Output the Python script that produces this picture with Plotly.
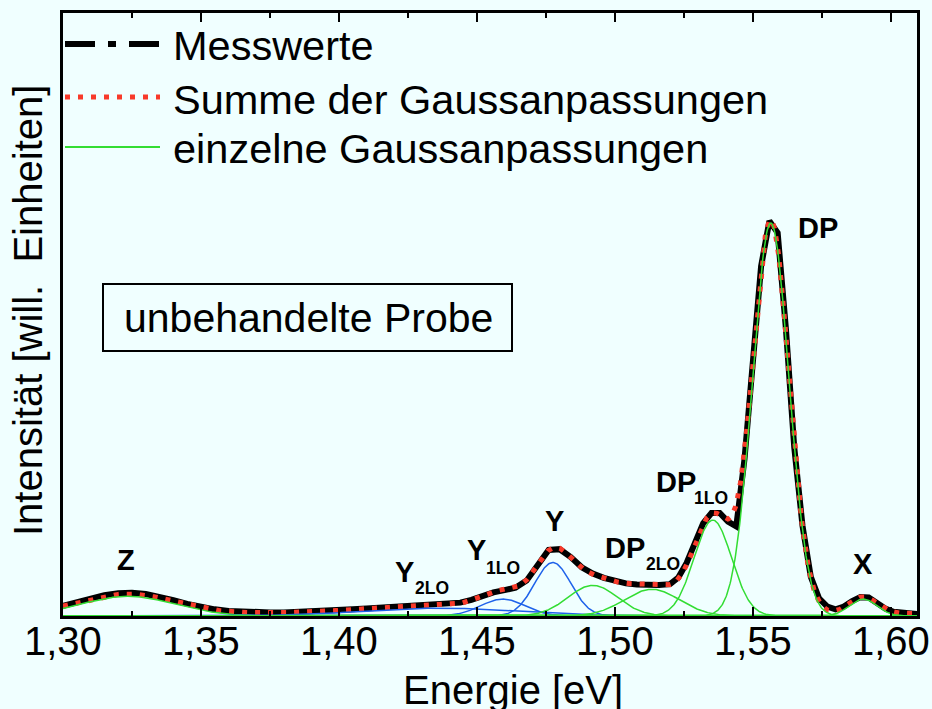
import numpy as np
import plotly.graph_objects as go

# Messwerte: Energie [eV] und Intensität [willk. Einheiten]
energie = [
    1.300, 1.305, 1.310, 1.315, 1.320, 1.325, 1.330, 1.335, 1.340, 1.345,
    1.350, 1.355, 1.360, 1.365, 1.370, 1.375, 1.380, 1.385, 1.390, 1.395,
    1.400, 1.405, 1.410, 1.415, 1.420, 1.425, 1.430, 1.435, 1.440,
    1.444, 1.448, 1.452, 1.456, 1.460, 1.464, 1.468, 1.472, 1.476, 1.480,
    1.484, 1.488, 1.492, 1.496, 1.500, 1.504, 1.508, 1.512, 1.516, 1.520,
    1.523, 1.526, 1.529, 1.532, 1.535, 1.538, 1.541, 1.544, 1.547, 1.550,
    1.553, 1.556, 1.559, 1.562, 1.565, 1.568, 1.571, 1.574, 1.577, 1.580,
    1.583, 1.586, 1.589, 1.592, 1.595, 1.598, 1.601, 1.604, 1.607, 1.610,
]
messwerte = [
    0.026, 0.035, 0.045, 0.053, 0.058, 0.059, 0.056, 0.049, 0.040, 0.031,
    0.023, 0.017, 0.013, 0.011, 0.010, 0.009, 0.009, 0.010, 0.011, 0.013,
    0.015, 0.017, 0.019, 0.021, 0.023, 0.025, 0.027, 0.028, 0.030,
    0.034, 0.041, 0.051, 0.060, 0.066, 0.072, 0.090, 0.132, 0.168, 0.170,
    0.150, 0.124, 0.108, 0.097, 0.089, 0.083, 0.080, 0.079, 0.079, 0.081,
    0.098, 0.135, 0.185, 0.236, 0.262, 0.262, 0.240, 0.228, 0.400, 0.650,
    0.890, 1.005, 0.975, 0.730, 0.430, 0.230, 0.100, 0.045, 0.024, 0.017,
    0.024, 0.038, 0.048, 0.047, 0.033, 0.019, 0.011, 0.008, 0.006, 0.005,
]

# Einzelne Gaußanpassungen: Zentrum [eV], Amplitude, Breite sigma [eV]
gauss_namen = ["Z", "Y2LO", "Y1LO", "Y", "Y*", "DP2LO", "DP1LO", "DP", "X"]
gauss_zentren = [1.3235, 1.437, 1.4594, 1.4775, 1.492, 1.5134, 1.5355, 1.5565, 1.590]
gauss_amplituden = [0.050, 0.020, 0.043, 0.136, 0.078, 0.068, 0.244, 1.000, 0.043]
gauss_breiten = [0.017, 0.028, 0.008, 0.0066, 0.009, 0.010, 0.0068, 0.0066, 0.005]
gauss_serie = ["DP", "Y", "Y", "Y", "DP", "DP", "DP", "DP", "DP"]
untergrund = 0.006

# Peak-Beschriftungen: Haupttext, Index
label_haupt = ["Z", "Y", "Y", "Y", "DP", "DP", "DP", "X"]
label_index = ["", "2LO", "1LO", "", "2LO", "1LO", "", ""]

# Lage der Beschriftungen (Energie, Intensität)
label_pos = [(1.3228, 0.142), (1.4239, 0.112), (1.4500, 0.168), (1.4783, 0.243),
             (1.5036, 0.173), (1.5221, 0.341), (1.5736, 0.987), (1.5899, 0.132)]
index_pos = [None, (1.4337, 0.071), (1.4594, 0.122), None,
             (1.5174, 0.132), (1.5348, 0.300), None, None]

# Achsenbeschriftung
tick_werte = [1.30, 1.35, 1.40, 1.45, 1.50, 1.55, 1.60]

BG = "#f0ffff"
SCHWARZ = "#000000"
ROT = "#f83a2a"
GRUEN = "#33dd33"
BLAU = "#1f62ea"
FONT = "Liberation Sans, Arial, Helvetica, sans-serif"

L, R, T, B = 63, 15, 13, 93
W, H = 932, 709
PW, PH = W - L - R, H - T - B


def px(x):
    return (x - L) / PW


def py(y):
    return (T + PH - y) / PH


e_fein = np.linspace(1.30, 1.61, 1241)
komponenten = [
    a * np.exp(-((e_fein - c) ** 2) / (2 * s ** 2))
    for c, a, s in zip(gauss_zentren, gauss_amplituden, gauss_breiten)
]
summe = untergrund + np.sum(komponenten, axis=0)

fig = go.Figure()

fig.add_trace(go.Scatter(
    x=energie, y=messwerte, mode="lines", name="Messwerte",
    line=dict(color=SCHWARZ, width=6), showlegend=False,
))
fig.add_trace(go.Scatter(
    x=e_fein, y=summe, mode="lines", name="Summe der Gaussanpassungen",
    line=dict(color=ROT, width=5, dash="5px,8px"), showlegend=False,
))
for name, serie, kurve in zip(gauss_namen, gauss_serie, komponenten):
    fig.add_trace(go.Scatter(
        x=e_fein, y=kurve, mode="lines", name=name,
        line=dict(color=BLAU if serie == "Y" else GRUEN, width=1.5),
        showlegend=False,
    ))

annotations = []
for text, (xe, yi) in zip(label_haupt, label_pos):
    annotations.append(dict(
        x=xe, y=yi, xref="x", yref="y", text=f"<b>{text}</b>", showarrow=False,
        font=dict(family=FONT, size=29, color=SCHWARZ),
        xanchor="center", yanchor="middle",
    ))
for text, pos in zip(label_index, index_pos):
    if pos is None:
        continue
    annotations.append(dict(
        x=pos[0], y=pos[1], xref="x", yref="y", text=f"<b>{text}</b>", showarrow=False,
        font=dict(family=FONT, size=17.5, color=SCHWARZ),
        xanchor="center", yanchor="middle",
    ))

# Zahlen an der Energieachse
for wert in tick_werte:
    annotations.append(dict(
        x=wert, y=py(641), xref="x", yref="paper",
        text=f"{wert:.2f}".replace(".", ","), showarrow=False,
        xanchor="center", yanchor="middle",
        font=dict(family=FONT, size=40, color=SCHWARZ),
    ))

# Legende (Linienmuster und Text)
legend_items = [
    ("Messwerte", SCHWARZ, 6, "30px,13px,8px,13px", 44),
    ("Summe der Gaussanpassungen", ROT, 5, "5px,8px", 97),
    ("einzelne Gaussanpassungen", GRUEN, 2, "solid", 147),
]
shapes = []
for text, farbe, breite, strich, yl in legend_items:
    shapes.append(dict(
        type="line", xref="paper", yref="paper",
        x0=px(65), x1=px(160), y0=py(yl), y1=py(yl),
        line=dict(color=farbe, width=breite, dash=strich),
    ))
    annotations.append(dict(
        x=px(171), y=py(yl + 2), xref="paper", yref="paper", text=text,
        showarrow=False, xanchor="left", yanchor="middle",
        font=dict(family=FONT, size=41.5, color=SCHWARZ),
    ))

# Kasten mit Probenbezeichnung
shapes.append(dict(
    type="rect", xref="paper", yref="paper",
    x0=px(103), x1=px(512), y0=py(351), y1=py(284),
    line=dict(color=SCHWARZ, width=2), fillcolor="rgba(0,0,0,0)",
))
annotations.append(dict(
    x=px(308), y=py(318), xref="paper", yref="paper",
    text="unbehandelte Probe", showarrow=False,
    xanchor="center", yanchor="middle",
    font=dict(family=FONT, size=41, color=SCHWARZ),
))

# Achsentitel
annotations.append(dict(
    x=px(513), y=py(690), xref="paper", yref="paper", text="Energie [eV]",
    showarrow=False, xanchor="center", yanchor="middle",
    font=dict(family=FONT, size=40, color=SCHWARZ),
))
annotations.append(dict(
    x=px(28), y=py(311), xref="paper", yref="paper",
    text="Intensität [will.  Einheiten]", textangle=-90,
    showarrow=False, xanchor="center", yanchor="middle",
    font=dict(family=FONT, size=40, color=SCHWARZ),
))

fig.update_layout(
    width=W, height=H,
    margin=dict(l=L, r=R, t=T, b=B, pad=0, autoexpand=False),
    paper_bgcolor=BG, plot_bgcolor=BG,
    showlegend=False,
    shapes=shapes,
    annotations=annotations,
    xaxis=dict(
        range=[1.30, 1.6095], tickmode="linear", tick0=1.30, dtick=0.05,
        showticklabels=False, automargin=False,
        ticks="inside", ticklen=9, tickwidth=2, tickcolor=SCHWARZ,
        minor=dict(ticks="inside", dtick=0.025, tick0=1.30, ticklen=5, tickwidth=2,
                   tickcolor=SCHWARZ),
        showline=True, linecolor=SCHWARZ, linewidth=3, mirror="ticks",
        showgrid=False, zeroline=False,
    ),
    yaxis=dict(
        range=[0, PH / 393], showticklabels=False, ticks="", automargin=False,
        showline=True, linecolor=SCHWARZ, linewidth=3, mirror=True,
        showgrid=False, zeroline=False,
    ),
)

fig.write_html("out.html")
